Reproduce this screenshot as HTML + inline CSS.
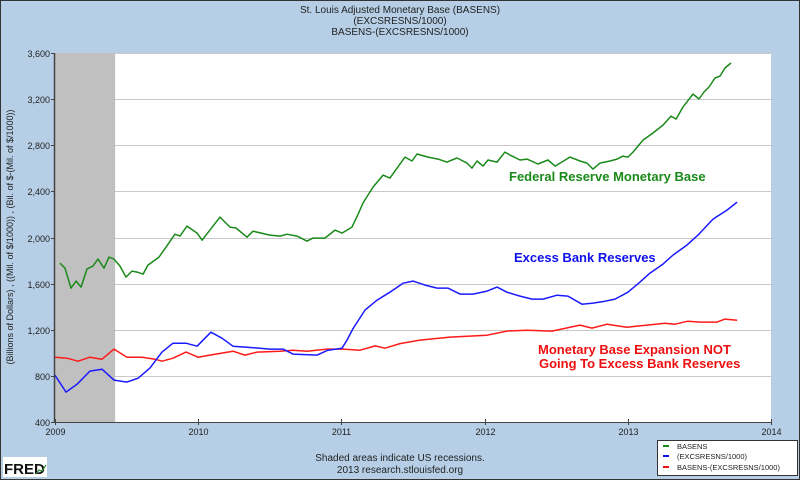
<!DOCTYPE html>
<html><head><meta charset="utf-8"><style>
body{margin:0;width:800px;height:480px;overflow:hidden;background:#b6cfe6;font-family:"Liberation Sans",sans-serif}
svg{display:block}
</style></head><body>
<svg id="c" width="800" height="480" xmlns="http://www.w3.org/2000/svg">
<rect x="0.5" y="0.5" width="799" height="479" fill="#b6cfe6" stroke="#333"/>
<text x="400" y="13" font-size="10" text-anchor="middle" fill="#222">St. Louis Adjusted Monetary Base (BASENS)</text>
<text x="400" y="24" font-size="10" text-anchor="middle" fill="#222">(EXCSRESNS/1000)</text>
<text x="400" y="35" font-size="10" text-anchor="middle" fill="#222">BASENS-(EXCSRESNS/1000)</text>
<rect x="55" y="53" width="716" height="369" fill="#fff"/>
<g id="grid"></g>
<rect id="rec" y="53" height="369" fill="#c0c0c0"/>
<g id="series"></g>
<line x1="54.5" y1="53" x2="54.5" y2="423" stroke="#444" stroke-width="1.5"/>
<line x1="55" y1="422.5" x2="771" y2="422.5" stroke="#444"/>
<g id="ticks"></g>
<text transform="translate(13,237) rotate(-90)" font-size="9" text-anchor="middle" fill="#222">(Billions of Dollars) , ((Mil. of $/1000)) , (Bil. of $-(Mil. of $/1000))</text>
<text x="509" y="181" font-size="13" font-weight="bold" fill="#1a8a1a">Federal Reserve Monetary Base</text>
<text x="514" y="262" font-size="13" font-weight="bold" fill="#1010ee">Excess Bank Reserves</text>
<text x="538" y="354" font-size="13" font-weight="bold" fill="#ee1010">Monetary Base Expansion NOT</text>
<text x="539" y="368" font-size="13" font-weight="bold" fill="#ee1010">Going To Excess Bank Reserves</text>
<text x="400" y="461" font-size="10" text-anchor="middle" fill="#222">Shaded areas indicate US recessions.</text>
<text x="400" y="473" font-size="10" text-anchor="middle" fill="#222">2013 research.stlouisfed.org</text>
<g>
<rect x="3" y="457" width="44" height="20" fill="#fff"/>
<text x="4" y="474" font-size="15" font-weight="bold" fill="#111">FRED</text>
<polyline points="36,474 39,470 42,471 46,465" fill="none" stroke="#3a8a3a" stroke-width="1.2"/>
</g>
<g>
<rect x="657.5" y="440.5" width="140" height="35" fill="#fff" stroke="#333"/>
<line x1="663" y1="446" x2="669" y2="446" stroke="#1a8a1a" stroke-width="2"/>
<text x="677" y="449" font-size="7.5" fill="#222">BASENS</text>
<line x1="663" y1="456" x2="669" y2="456" stroke="#1010ee" stroke-width="2"/>
<text x="677" y="459" font-size="7.5" fill="#222">(EXCSRESNS/1000)</text>
<line x1="663" y1="467" x2="669" y2="467" stroke="#ee1010" stroke-width="2"/>
<text x="677" y="470" font-size="7.5" fill="#222">BASENS-(EXCSRESNS/1000)</text>
</g>
</svg>
<script>
const baseYear = 2009;
const yTicks = [400,800,1200,1600,2000,2400,2800,3200,3600];
const yTickLabels = ["400","800","1,200","1,600","2,000","2,400","2,800","3,200","3,600"];
const xTicks = [2009,2010,2011,2012,2013,2014];
const recession = [2009.0, 2009.42];
const basensT = [.035,.07,.112,.147,.182,.223,.265,.30,.342,.377,.412,.454,.496,.538,.573,.615,.649,.726,.838,.873,.922,.992,1.027,1.152,1.222,1.264,1.341,1.383,1.501,1.571,1.620,1.690,1.760,1.802,1.885,1.955,2.004,2.074,2.116,2.151,2.221,2.291,2.339,2.444,2.493,2.528,2.605,2.675,2.737,2.807,2.877,2.912,2.947,2.989,3.024,3.087,3.142,3.191,3.247,3.296,3.373,3.443,3.492,3.596,3.666,3.715,3.757,3.806,3.876,3.925,3.966,4.001,4.036,4.106,4.176,4.246,4.302,4.337,4.385,4.455,4.497,4.532,4.567,4.609,4.644,4.679,4.721];
const basensV = [1778,1734,1561,1622,1570,1726,1752,1813,1734,1830,1813,1752,1657,1709,1700,1683,1761,1830,2029,2012,2099,2038,1977,2177,2090,2082,2003,2055,2021,2012,2029,2012,1969,1995,1995,2064,2038,2090,2200,2299,2437,2541,2515,2697,2663,2724,2697,2680,2654,2689,2645,2602,2663,2619,2672,2654,2741,2706,2672,2680,2637,2672,2619,2697,2663,2645,2593,2645,2663,2680,2706,2697,2741,2845,2906,2975,3053,3027,3131,3244,3201,3262,3305,3383,3400,3470,3513];
const excessT = [0,.077,.154,.244,.328,.412,.503,.580,.663,.747,.824,.915,.992,1.089,1.166,1.243,1.341,1.501,1.592,1.662,1.830,1.906,2.004,2.039,2.081,2.165,2.249,2.339,2.430,2.500,2.584,2.668,2.744,2.828,2.919,3.017,3.087,3.156,3.247,3.331,3.408,3.506,3.582,3.680,3.757,3.841,3.911,4.001,4.085,4.155,4.246,4.316,4.413,4.490,4.595,4.693,4.763];
const excessV = [806,659,728,841,858,763,746,780,867,1006,1083,1083,1057,1179,1127,1057,1049,1032,1032,989,980,1023,1040,1110,1210,1370,1457,1526,1604,1622,1587,1561,1561,1509,1509,1535,1570,1526,1492,1466,1466,1500,1492,1422,1431,1448,1466,1526,1613,1691,1769,1848,1934,2021,2160,2238,2307];
const diffT = [0,.084,.161,.244,.328,.412,.503,.608,.698,.747,.824,.915,.999,1.082,1.243,1.327,1.411,1.571,1.662,1.760,1.899,2.011,2.130,2.235,2.304,2.409,2.549,2.758,3.017,3.156,3.296,3.471,3.666,3.750,3.855,3.994,4.134,4.260,4.330,4.420,4.504,4.623,4.679,4.763];
const diffV = [962,953,927,962,945,1032,962,962,945,927,953,1006,962,980,1014,980,1006,1014,1023,1014,1032,1032,1023,1060,1040,1080,1110,1136,1153,1188,1196,1188,1240,1214,1248,1222,1240,1257,1248,1274,1266,1266,1292,1283];

const NS = "http://www.w3.org/2000/svg";
const xs = t => 55 + (t - 2009) * 143.2;
const ys = v => 422 - (v - 400) * 369 / 3200;
function mk(tag, attrs, parent){const e=document.createElementNS(NS,tag);for(const k in attrs)e.setAttribute(k,attrs[k]);parent.appendChild(e);return e;}
const grid=document.getElementById('grid'), ticks=document.getElementById('ticks'), series=document.getElementById('series');
yTicks.forEach((v,i)=>{
  const y=Math.round(ys(v))+0.5;
  if(i>0){const g=mk('line',{x1:55,x2:771,y1:y,y2:y,stroke:'#c8c8c8','stroke-width':1},grid);
  
  }
  const tk=mk('line',{x1:51,x2:55,y1:y,y2:y,stroke:'#444'},ticks);
  
  
  const t=mk('text',{x:50,y:y+3.5,'font-size':9,'text-anchor':'end',fill:'#222'},ticks);
  t.textContent=yTickLabels[i];
  
  
});
xTicks.forEach(yr=>{
  const x=Math.round(xs(yr))+0.5;
  const tk=mk('line',{x1:x,x2:x,y1:419,y2:425,stroke:'#444'},ticks);
  
  
  const t=mk('text',{x:x,y:435,'font-size':9,'text-anchor':'middle',fill:'#222'},ticks);
  t.textContent=String(yr);
  
  
});
const rec=document.getElementById('rec');
rec.setAttribute('x',xs(recession[0]));
rec.setAttribute('width',xs(recession[1])-xs(recession[0]));
function line(T,V,color,name){
  const pts=T.map((t,i)=>xs(baseYear+t).toFixed(1)+','+ys(V[i]).toFixed(1)).join(' ');
  const p=mk('polyline',{points:pts,fill:'none',stroke:color,'stroke-width':1.5,'stroke-linejoin':'round'},series);
  
  
}
line(diffT,diffV,'#ff1a1a','line-basens-minus-excess');
line(excessT,excessV,'#1a1aff','line-excess-reserves');
line(basensT,basensV,'#1a8a1a','line-basens');
</script>
</body></html>
